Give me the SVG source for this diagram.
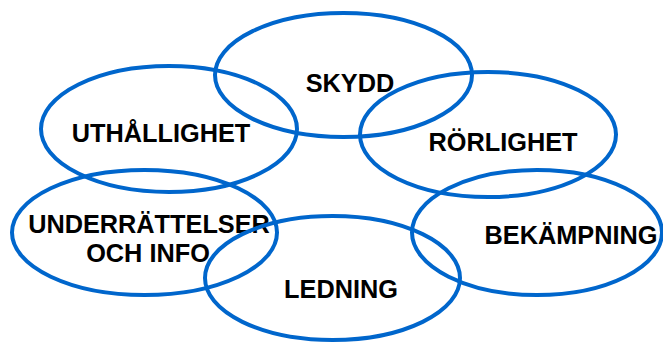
<svg xmlns="http://www.w3.org/2000/svg" width="663" height="343" viewBox="0 0 663 343">
<style>
.e{fill:none;stroke:#0066CC;stroke-width:4}
.t{font-family:"Liberation Sans",Arial,sans-serif;font-weight:bold;font-size:25.3px;fill:#000;text-anchor:middle}
</style>
<rect width="663" height="343" fill="#fff"/>
<g id="skydd"><ellipse class="e" cx="343.5" cy="75" rx="128.5" ry="62"/><text class="t" x="350" y="92">SKYDD</text></g>
<g id="uthallighet"><ellipse class="e" cx="169" cy="129" rx="128" ry="63"/><text class="t" x="161" y="142">UTHÅLLIGHET</text></g>
<g id="rorlighet"><ellipse class="e" cx="488" cy="134.5" rx="128" ry="62.5"/><text class="t" x="503" y="151">RÖRLIGHET</text></g>
<g id="underrattelser"><ellipse class="e" cx="144.5" cy="232.5" rx="132.5" ry="62.5"/><text class="t" x="149" y="233">UNDERRÄTTELSER</text><text class="t" x="148" y="262">OCH INFO</text></g>
<g id="bekampning"><ellipse class="e" cx="537" cy="232.5" rx="125" ry="62.5"/><text class="t" x="571" y="244">BEKÄMPNING</text></g>
<g id="ledning"><ellipse class="e" cx="332.5" cy="278" rx="127.5" ry="62"/><text class="t" x="341" y="298">LEDNING</text></g>
<g id="connectors"></g>
</svg>
